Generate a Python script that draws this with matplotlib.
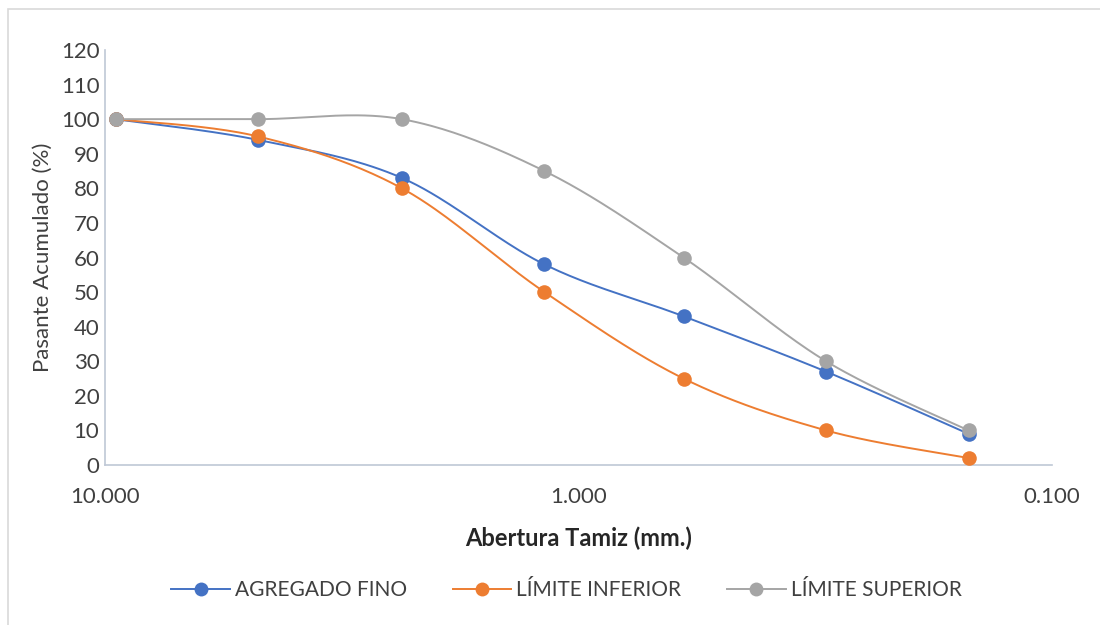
import numpy as np
import matplotlib
matplotlib.use("Agg")
import matplotlib.pyplot as plt
from matplotlib.lines import Line2D
from matplotlib.patches import Rectangle

# Sieve openings (mm) and cumulative passing (%)
aberturas = [9.5, 4.75, 2.36, 1.18, 0.6, 0.3, 0.15]
agregado_fino = [100, 94, 83, 58, 43, 27, 9]
limite_inferior = [100, 95, 80, 50, 25, 10, 2]
limite_superior = [100, 100, 100, 85, 60, 30, 10]

series = [
    ("AGREGADO FINO", agregado_fino, "#4472C4"),
    ("LÍMITE INFERIOR", limite_inferior, "#ED7D31"),
    ("LÍMITE SUPERIOR", limite_superior, "#A5A5A5"),
]

x_ticks = [10, 1, 0.1]
x_tick_labels = ["10.000", "1.000", "0.100"]
y_ticks = list(range(0, 121, 10))

plt.rcParams["font.family"] = ["Lato", "DejaVu Sans"]
text_color = "#404040"


def smooth(xs, ys, n=40):
    """Catmull-Rom curve through the points, built in (log10 x, y) space."""
    u = np.log10(np.asarray(xs, float))
    v = np.asarray(ys, float)
    pu = np.concatenate([[u[0]], u, [u[-1]]])
    pv = np.concatenate([[v[0]], v, [v[-1]]])
    out_u, out_v = [], []
    t = np.linspace(0, 1, n)
    for i in range(1, len(pu) - 2):
        p0u, p1u, p2u, p3u = pu[i - 1:i + 3]
        p0v, p1v, p2v, p3v = pv[i - 1:i + 3]
        # Bezier control points
        c1u, c1v = p1u + (p2u - p0u) / 6, p1v + (p2v - p0v) / 6
        c2u, c2v = p2u - (p3u - p1u) / 6, p2v - (p3v - p1v) / 6
        b0 = (1 - t) ** 3
        b1 = 3 * (1 - t) ** 2 * t
        b2 = 3 * (1 - t) * t ** 2
        b3 = t ** 3
        out_u.append(b0 * p1u + b1 * c1u + b2 * c2u + b3 * p2u)
        out_v.append(b0 * p1v + b1 * c1v + b2 * c2v + b3 * p2v)
    return 10 ** np.concatenate(out_u), np.concatenate(out_v)


fig = plt.figure(figsize=(11, 6.25), dpi=100)
fig.patch.set_facecolor("white")
fig.add_artist(Rectangle((8 / 1100, -0.01), 1.1, 1 - 9 / 625 + 0.01,
                         transform=fig.transFigure, fill=False,
                         edgecolor="#D9D9D9", linewidth=1.2))

ax = fig.add_axes([105 / 1100, 160 / 625, 947 / 1100, 415 / 625])

for name, vals, color in series:
    sx, sy = smooth(aberturas, vals)
    ax.plot(sx, sy, color=color, linewidth=1.4, zorder=2)
    ax.plot(aberturas, vals, linestyle="none", marker="o", markersize=10.5,
            color=color, markeredgewidth=0, zorder=3)

ax.set_xscale("log")
ax.set_xlim(10, 0.1)
ax.set_ylim(0, 120)
ax.set_xticks(x_ticks)
ax.set_xticklabels(x_tick_labels)
ax.xaxis.set_minor_locator(matplotlib.ticker.NullLocator())
ax.set_yticks(y_ticks)

ax.tick_params(axis="both", length=0, labelsize=16, colors=text_color)
ax.tick_params(axis="x", pad=16)
ax.tick_params(axis="y", pad=4)

for side in ("top", "right"):
    ax.spines[side].set_visible(False)
for side in ("left", "bottom"):
    ax.spines[side].set_color("#BFC8D6")
    ax.spines[side].set_linewidth(1.2)

ax.set_ylabel("Pasante Acumulado (%)", fontsize=16, color=text_color, labelpad=6)
ax.set_xlabel("Abertura Tamiz (mm.)", fontsize=17, fontweight="bold",
              color="#262626", labelpad=14)

handles = [Line2D([0], [0], color=c, linewidth=1.4, marker="o", markersize=10,
                  markeredgewidth=0) for _, _, c in series]
fig.legend(handles, [s[0] for s in series], loc="center",
           bbox_to_anchor=(0.515, 35 / 625), ncol=3, frameon=False,
           fontsize=15, handlelength=2.8, columnspacing=2.2, handletextpad=0.25,
           labelcolor=text_color)

fig.savefig("out.png", dpi=100, facecolor="white")
